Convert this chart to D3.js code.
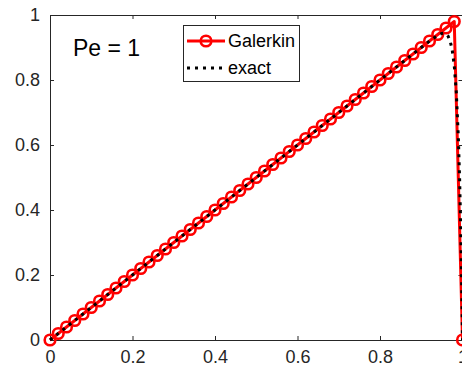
<!DOCTYPE html>
<html>
<head>
<meta charset="utf-8">
<script src="https://cdn.jsdelivr.net/npm/d3@7"></script>
<style>
  html, body { margin: 0; padding: 0; background: #fff; overflow: hidden; }
  svg { display: block; font-family: "Liberation Sans", Arial, sans-serif; }
</style>
</head>
<body>
<svg id="chart" width="462" height="373"></svg>
<script>
// Nodal values of the Galerkin solution (h = 0.02)
const galerkinX = [0, 0.02, 0.04, 0.06, 0.08, 0.10, 0.12, 0.14, 0.16, 0.18,
  0.20, 0.22, 0.24, 0.26, 0.28, 0.30, 0.32, 0.34, 0.36, 0.38,
  0.40, 0.42, 0.44, 0.46, 0.48, 0.50, 0.52, 0.54, 0.56, 0.58,
  0.60, 0.62, 0.64, 0.66, 0.68, 0.70, 0.72, 0.74, 0.76, 0.78,
  0.80, 0.82, 0.84, 0.86, 0.88, 0.90, 0.92, 0.94, 0.96, 0.98, 1.00];
const galerkinY = [0, 0.02, 0.04, 0.06, 0.08, 0.10, 0.12, 0.14, 0.16, 0.18,
  0.20, 0.22, 0.24, 0.26, 0.28, 0.30, 0.32, 0.34, 0.36, 0.38,
  0.40, 0.42, 0.44, 0.46, 0.48, 0.50, 0.52, 0.54, 0.56, 0.58,
  0.60, 0.62, 0.64, 0.66, 0.68, 0.70, 0.72, 0.74, 0.76, 0.78,
  0.80, 0.82, 0.84, 0.86, 0.88, 0.90, 0.92, 0.94, 0.96, 0.98, 0];

// Exact solution sampled densely across the boundary layer
const exactX = [0, 0.5, 0.9, 0.92, 0.94, 0.95, 0.955, 0.96, 0.965, 0.97, 0.975,
  0.98, 0.985, 0.99, 0.993, 0.995, 0.997, 0.999, 1.0];
const exactY = [0, 0.5, 0.9, 0.9197, 0.9375, 0.9433, 0.9439, 0.9417, 0.9348, 0.9202, 0.8929,
  0.8447, 0.7619, 0.6221, 0.4964, 0.3885, 0.2562, 0.0942, 0];

const xTicks = [0, 0.2, 0.4, 0.6, 0.8, 1];
const yTicks = [0, 0.2, 0.4, 0.6, 0.8, 1];
const xTickLabels = ["0", "0.2", "0.4", "0.6", "0.8", "1"];
const yTickLabels = ["0", "0.2", "0.4", "0.6", "0.8", "1"];
const seriesNames = ["Galerkin", "exact"];
const annotation = "Pe = 1";

const axisColor = "#262626";
const plotLeft = 50, plotRight = 462.5, plotTop = 15, plotBottom = 340;
const tickLen = 4;

const svg = d3.select("#chart");
const x = d3.scaleLinear().domain([0, 1]).range([plotLeft, plotRight]);
const y = d3.scaleLinear().domain([0, 1]).range([plotBottom, plotTop]);

// Axes (box on, ticks pointing inward)
const bottomAxis = d3.axisBottom(x).tickValues(xTicks)
  .tickFormat((d, i) => xTickLabels[i]).tickSizeInner(-tickLen).tickSizeOuter(0).tickPadding(10);
const leftAxis = d3.axisLeft(y).tickValues(yTicks)
  .tickFormat((d, i) => yTickLabels[i]).tickSizeInner(-tickLen).tickSizeOuter(0).tickPadding(10);
const topAxis = d3.axisTop(x).tickValues(xTicks).tickFormat("").tickSizeInner(-tickLen).tickSizeOuter(0);
const rightAxis = d3.axisRight(y).tickValues(yTicks).tickFormat("").tickSizeInner(-tickLen).tickSizeOuter(0);

function styleAxis(g) {
  g.selectAll("path, line").attr("stroke", axisColor).attr("stroke-width", 1);
  g.selectAll("text").attr("fill", axisColor).style("font-size", "18px")
    .style("font-family", "'Liberation Sans', Arial, sans-serif");
}

svg.append("g").attr("transform", `translate(0,${plotBottom})`).call(bottomAxis).call(styleAxis);
svg.append("g").attr("transform", `translate(${plotLeft},0)`).call(leftAxis).call(styleAxis);
svg.append("g").attr("transform", `translate(0,${plotTop})`).call(topAxis).call(styleAxis);
svg.append("g").attr("transform", `translate(${plotRight},0)`).call(rightAxis).call(styleAxis);

// Galerkin solution: red line with open circle markers
const gData = galerkinX.map((d, i) => [d, galerkinY[i]]);
const eData = exactX.map((d, i) => [d, exactY[i]]);
const line = d3.line().x(d => x(d[0])).y(d => y(d[1]));

svg.append("path").datum(gData).attr("d", line)
  .attr("fill", "none").attr("stroke", "#ff0000").attr("stroke-width", 3)
  .attr("stroke-linejoin", "round");
svg.append("g").selectAll("circle").data(gData).join("circle")
  .attr("cx", d => x(d[0])).attr("cy", d => y(d[1])).attr("r", 5.3)
  .attr("fill", "none").attr("stroke", "#ff0000").attr("stroke-width", 2.6);

// Exact solution: black dotted line
svg.append("path").datum(eData).attr("d", line)
  .attr("fill", "none").attr("stroke", "#000").attr("stroke-width", 3)
  .attr("stroke-dasharray", "3,5");

// Annotation
svg.append("text").attr("x", 73).attr("y", 56).text(annotation)
  .attr("fill", "#000").style("font-size", "23px");

// Legend
const lg = svg.append("g");
lg.append("rect").attr("x", 183.5).attr("y", 25.5).attr("width", 116).attr("height", 56)
  .attr("fill", "#fff").attr("stroke", axisColor).attr("stroke-width", 1);
const rows = [41, 68];
lg.append("line").attr("x1", 187).attr("x2", 225).attr("y1", rows[0]).attr("y2", rows[0])
  .attr("stroke", "#ff0000").attr("stroke-width", 3);
lg.append("circle").attr("cx", 206).attr("cy", rows[0]).attr("r", 5.3)
  .attr("fill", "none").attr("stroke", "#ff0000").attr("stroke-width", 2.6);
lg.append("line").attr("x1", 187).attr("x2", 225).attr("y1", rows[1]).attr("y2", rows[1])
  .attr("stroke", "#000").attr("stroke-width", 3).attr("stroke-dasharray", "3,5");
seriesNames.forEach((name, i) => {
  lg.append("text").attr("x", 228).attr("y", rows[i]).attr("dy", "0.35em")
    .text(name).attr("fill", "#000").style("font-size", "18px");
});
</script>
</body>
</html>
